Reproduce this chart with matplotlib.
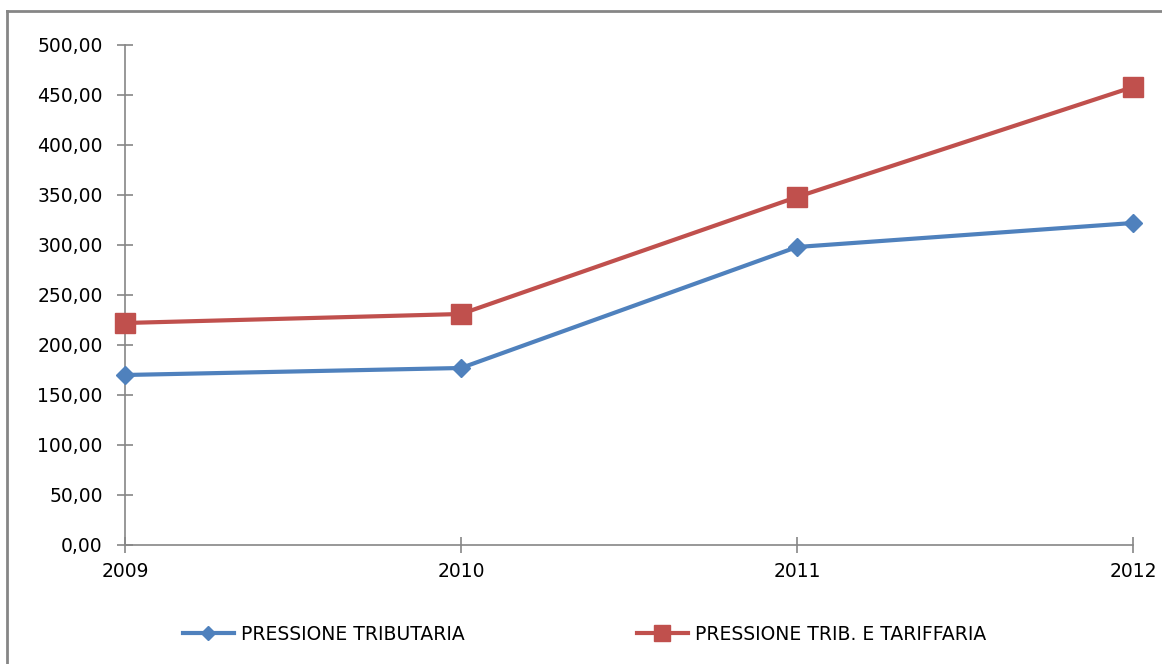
import matplotlib.pyplot as plt
from matplotlib.lines import Line2D
from matplotlib.ticker import FuncFormatter

# ======================
# data
# ======================
years = ["2009", "2010", "2011", "2012"]
pressione_tributaria = [170.0, 177.0, 298.0, 322.0]
pressione_trib_tariffaria = [222.0, 231.0, 348.0, 458.0]
series_labels = ["PRESSIONE TRIBUTARIA", "PRESSIONE TRIB. E TARIFFARIA"]

BLUE = "#4F81BD"
RED = "#C0504D"
GRAY = "#868686"

plt.rcParams["font.family"] = ["DejaVu Sans"]

W, H = 1162, 664
fig = plt.figure(figsize=(W / 100, H / 100), dpi=100)
ax = fig.add_axes([125 / W, (H - 545) / H, 1008 / W, 500 / H])

x = list(range(len(years)))
ax.plot(x, pressione_tributaria, color=BLUE, lw=3.0, marker="D", ms=9,
        solid_capstyle="round", clip_on=False, zorder=3)
ax.plot(x, pressione_trib_tariffaria, color=RED, lw=3.0, marker="s", ms=14,
        solid_capstyle="round", clip_on=False, zorder=3)

ax.set_xlim(0, len(years) - 1)
ax.set_ylim(0, 500)
ax.set_xticks(x)
ax.set_xticklabels(years)
ax.set_yticks(range(0, 501, 50))
ax.yaxis.set_major_formatter(FuncFormatter(lambda v, p: f"{v:.2f}".replace(".", ",")))

for side in ["top", "right"]:
    ax.spines[side].set_visible(False)
for side in ["left", "bottom"]:
    ax.spines[side].set_color(GRAY)
    ax.spines[side].set_linewidth(1.2)

ax.tick_params(axis="y", direction="inout", length=12, width=1.2, color=GRAY,
               labelsize=13.5, pad=10)
ax.tick_params(axis="x", direction="inout", length=11, width=1.2, color=GRAY,
               labelsize=13.5, pad=7)

# legend, two entries placed separately
h1 = Line2D([], [], color=BLUE, lw=3.0, marker="D", ms=7)
h2 = Line2D([], [], color=RED, lw=3.0, marker="s", ms=11)
ly = 1 - 634 / H
for h, lab, lx in [(h1, series_labels[0], 183 / W), (h2, series_labels[1], 637 / W)]:
    fig.legend([h], [lab], loc="center left", bbox_to_anchor=(lx, ly),
               frameon=False, fontsize=13.5, handlelength=2.7, handletextpad=0.4,
               borderpad=0, borderaxespad=0)

# chart frame (top and left edges visible)
fig.add_artist(Line2D([7 / W, 1], [1 - 11 / H, 1 - 11 / H], color=GRAY, lw=2,
                      transform=fig.transFigure))
fig.add_artist(Line2D([7 / W, 7 / W], [0, 1 - 11 / H], color=GRAY, lw=2,
                      transform=fig.transFigure))

fig.savefig("out.png", dpi=100)
